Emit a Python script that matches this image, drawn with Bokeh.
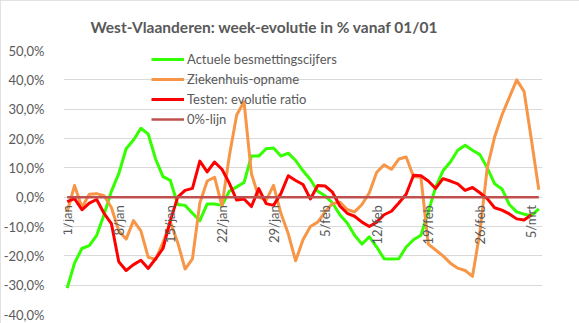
import math
import pandas as pd
from bokeh.plotting import figure
from bokeh.models import Range1d, FixedTicker, Legend, LegendItem, Title
from bokeh.embed import file_html
from bokeh.resources import INLINE
from bokeh.core.properties import value

# ---- data -------------------------------------------------------------
days = pd.date_range("2021-01-01", "2021-03-06", freq="D")
month_nl = {1: "jan", 2: "feb", 3: "mrt"}
date_labels = [f"{d.day}/{month_nl[d.month]}" for d in days]

tick_labels = ["1/jan", "8/jan", "15/jan", "22/jan", "29/jan",
               "5/feb", "12/feb", "19/feb", "26/feb", "5/mrt"]
y_ticks = [-40, -30, -20, -10, 0, 10, 20, 30, 40, 50]

besmettingen = [
    -31, -22.5, -17.5, -16.5, -13, -6, 2, 8, 16.5, 19.5,
    23.5, 21.5, 13, 7, 5.7, -2.5, -2.8, -5.5, -8, -2.3,
    -2.3, -2.8, 2, 3.5, 5, 14, 14, 16.5, 16.8, 14,
    15, 12.5, 9, 6, 2, 0.5, -2, -6, -8.8, -13,
    -16, -13.5, -17, -21, -21.1, -21, -17, -14.5, -13, -5,
    3.4, 9, 12, 16, 17.7, 16, 14.5, 10, 4.6, 2.8,
    -2.5, -5, -5.8, -6.3, -4,
]
ziekenhuis = [
    -5, 4, -3.5, 1, 1.2, 0.5, -3.5, -11.5, -14.3, -8,
    -11.5, -20.5, -21.2, -15.5, -8.5, -15.5, -24.5, -21, -2, 5.5,
    6.8, -3, 14, 28, 32.5, 8, 0, -1, 4, -5.5,
    -12.5, -21.7, -14.5, -10, -8.5, -5, -2.2, -1.7, -4.2, -5,
    -2.5, 1.5, 8.5, 11, 9.5, 13, 13.7, 7, 6.8, -16,
    -18, -20, -22.5, -24.2, -25, -27, -12, 10, 20.5, 28,
    34, 40, 36, 19.5, 2.5,
]
testen = [
    -1.5, -0.5, -4.3, -2, -0.8, -5.5, -9, -22, -25, -23,
    -21.5, -24.3, -21, -17.5, -8, 0, 2.3, 3, 12.3, 8.6,
    12, 9.5, 4.8, -1, -0.6, -3.2, 2.9, -2.2, -2.8, 1.2,
    7.3, 5.7, 4.3, -0.6, 4, 3.8, 1.7, -3, -5.5, -6.5,
    -8.5, -10, -8.5, -6, -4.8, -2, 1, 7.5, 7.3, 5.5,
    3, 6.3, 5.5, 4.5, 2.3, 3.3, 1.5, -0.5, -3.6, -4.4,
    -5.7, -7.4, -7.8, -6,
]
nul_lijn = [0] * len(date_labels)

series_names = ["Actuele besmettingscijfers", "Ziekenhuis-opname",
                "Testen: evolutie ratio", "0%-lijn"]
series_colors = ["#33FF00", "#F79646", "#FF0000", "#C0504D"]

# ---- figure -----------------------------------------------------------
FONT = "Lato"
TXT = "#595959"

p = figure(width=579, height=323, output_backend="svg", toolbar_location=None,
           x_range=Range1d(-0.5, len(date_labels) - 0.5), y_range=Range1d(-40, 50),
           x_axis_type=None,
           min_border_left=58, min_border_right=37, min_border_top=50, min_border_bottom=9)
p.outline_line_color = None
p.background_fill_color = "white"
p.border_fill_color = "white"
p.styles = {"outline": "1px solid #D9D9D9", "outline-offset": "-1px"}

p.title = Title(text="West-Vlaanderen: week-evolutie in %  vanaf 01/01", align="left",
                offset=27, text_font=FONT, text_font_size="15.5px", text_font_style="bold",
                text_color=TXT, standoff=29)

p.ygrid.grid_line_color = "#D9D9D9"
p.xgrid.grid_line_color = None
p.yaxis.ticker = FixedTicker(ticks=y_ticks)
p.yaxis.major_label_overrides = {v: f"{v:.1f}%".replace(".", ",") for v in y_ticks}
p.yaxis.axis_line_color = None
p.yaxis.major_tick_line_color = None
p.yaxis.minor_tick_line_color = None
p.yaxis.major_label_standoff = 13
p.yaxis.major_label_text_font = FONT
p.yaxis.major_label_text_font_size = "13px"
p.yaxis.major_label_text_color = TXT

renderers = []
for vals, color, w in zip([besmettingen, ziekenhuis, testen, nul_lijn], series_colors,
                          [3, 3, 3, 2.5]):
    r = p.line(list(range(len(vals))), vals, line_color=color, line_width=w,
               line_join="round")
    renderers.append(r)

# category labels along the 0%-line
tick_x = [date_labels.index(t) for t in tick_labels]
p.text(x=tick_x, y=[0] * len(tick_x), text=tick_labels, angle=math.pi / 2,
       text_align="right", text_baseline="middle", y_offset=8,
       text_font=value(FONT), text_font_size="13px", text_color=TXT)

legend = Legend(items=[LegendItem(label=n, renderers=[r]) for n, r in zip(series_names, renderers)],
                location=(88, 185), background_fill_alpha=0, border_line_alpha=0,
                padding=0, margin=0, spacing=0, label_height=20, glyph_height=20,
                glyph_width=33, label_standoff=3, label_text_font=FONT,
                label_text_font_size="13px", label_text_color=TXT)
p.add_layout(legend)

open("out.html", "w").write(file_html(p, INLINE))
